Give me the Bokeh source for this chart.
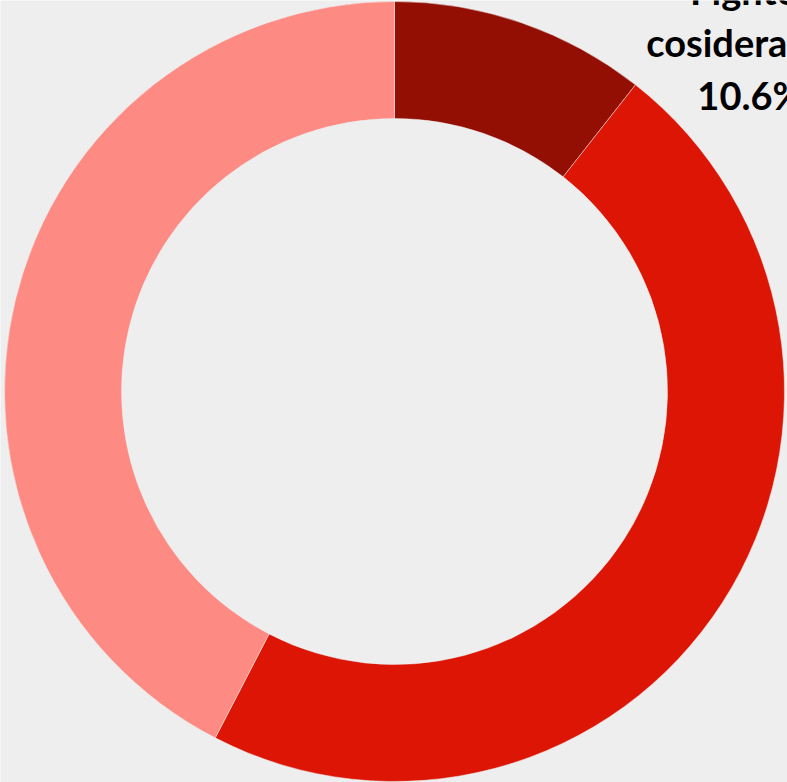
import math
from bokeh.plotting import figure
from bokeh.models import ColumnDataSource, Range1d
from bokeh.core.properties import value
from bokeh.embed import file_html
from bokeh.resources import INLINE

categories = ["Fighter cosideration", "Segment B", "Segment C"]
shares = [10.6, 47.0, 42.4]
colors = ["#930E03", "#DC1505", "#FD8B83"]
label_lines = ["Fighter", "cosideration", "10.6%"]

W, H = 787, 782
cx, cy = 394, 391
r_out, r_in = 390, 273

total = sum(shares)
starts, ends = [], []
acc = 0.0
for s in shares:
    a0 = math.pi / 2 - 2 * math.pi * acc / total
    acc += s
    a1 = math.pi / 2 - 2 * math.pi * acc / total
    starts.append(a0)
    ends.append(a1)

src = ColumnDataSource(dict(cat=categories, share=shares, color=colors,
                            start=starts, end=ends))

p = figure(width=W, height=H, x_range=Range1d(0, W), y_range=Range1d(0, H),
           output_backend="svg", toolbar_location=None, min_border=0,
           background_fill_color="#EEEEEE", border_fill_color="#EEEEEE",
           outline_line_color=None)
p.axis.visible = False
p.grid.visible = False

p.annular_wedge(x=cx, y=cy, inner_radius=r_in, outer_radius=r_out,
                start_angle="start", end_angle="end", direction="clock",
                fill_color="color", line_color="#EEEEEE", line_width=0.5,
                source=src)

lab = ColumnDataSource(dict(x=[750] * 3, y=[793, 741, 688], t=label_lines))
p.text(x="x", y="y", text="t", source=lab, text_align="center",
       text_baseline="alphabetic", text_font=value("Lato"),
       text_font_style="bold", text_font_size="38px", text_color="#000000")

open("out.html", "w").write(file_html(p, INLINE))
